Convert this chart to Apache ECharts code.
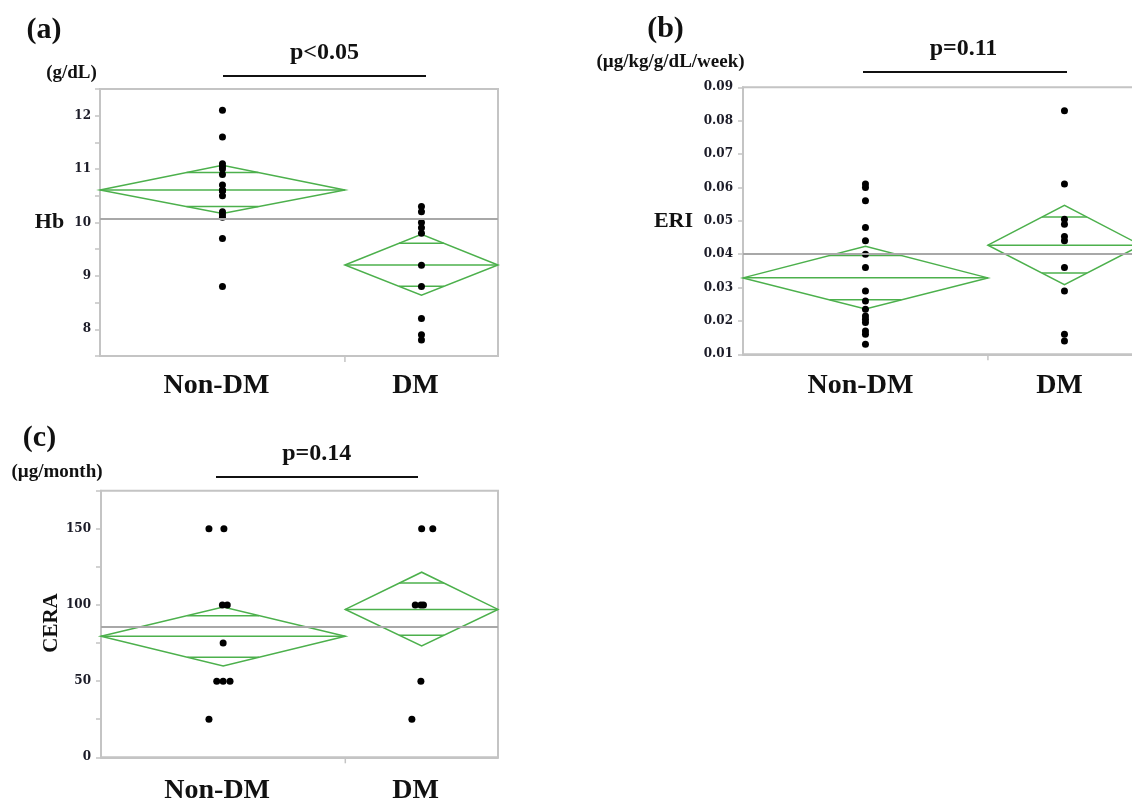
<!DOCTYPE html>
<html>
<head>
<meta charset="utf-8">
<script src="https://cdn.jsdelivr.net/npm/echarts@6/dist/echarts.min.js"></script>
<style>html,body{margin:0;padding:0;background:#fff}#c{width:1132px;height:803px}</style>
</head>
<body>
<div id="c"></div>
<script>
// ---------- data ----------
const categories = ['Non-DM', 'DM'];
const groupSizes = [16, 10];

const hbNonDM = [12.1, 11.6, 11.1, 11.05, 11.0, 10.9, 10.7, 10.6, 10.6, 10.6, 10.5, 10.2, 10.15, 10.1, 9.7, 8.8];
const hbDM = [10.3, 10.2, 10.0, 9.9, 9.8, 9.2, 8.8, 8.2, 7.9, 7.8];
const hbMeans = [10.61, 9.205];
const hbCI = [[10.17, 11.07], [8.64, 9.78]];
const hbGrandMean = 10.07;

const eriNonDM = [0.061, 0.060, 0.056, 0.048, 0.044, 0.040, 0.036, 0.029, 0.026, 0.0235, 0.0215, 0.0205, 0.0195, 0.017, 0.016, 0.013];
const eriDM = [0.083, 0.061, 0.0505, 0.049, 0.0453, 0.044, 0.036, 0.029, 0.016, 0.014];
const eriMeans = [0.0329, 0.0427];
const eriCI = [[0.0236, 0.0424], [0.0309, 0.0546]];
const eriGrandMean = 0.0366;

const ceraNonDM = [150, 150, 100, 100, 75, 50, 50, 50, 25];
const ceraNonDMJitter = [-0.93, 0.05, -0.05, 0.27, 0, -0.42, 0, 0.45, -0.93];
const ceraDM = [150, 150, 100, 100, 100, 50, 25];
const ceraDMJitter = [0, 0.73, -0.42, -0.05, 0.12, -0.05, -0.64];
const ceraMeans = [79.4, 97.1];
const ceraCI = [[60.0, 98.6], [73.1, 121.5]];
const ceraGrandMean = 86;

const pLabels = ['p<0.05', 'p=0.11', 'p=0.14'];
const panelLabels = ['(a)', '(b)', '(c)'];
const unitLabels = ['(g/dL)', '(\u00b5g/kg/g/dL/week)', '(\u00b5g/month)'];
const yNames = ['Hb', 'ERI', 'CERA'];

// ---------- helpers ----------
const GREEN = '#4cb04c';
const BORDER = '#c4c4c4';
const SERIF = '"Liberation Serif","Times New Roman",serif';
const TICKFONT = '"DejaVu Serif",serif';
const total = groupSizes[0] + groupSizes[1];
const starts = [0, groupSizes[0]];
const centers = [groupSizes[0] / 2, groupSizes[0] + groupSizes[1] / 2];

function diamonds(means, ci, ymin) {
  return means.map((m, i) => [starts[i], starts[i] + groupSizes[i], m, ci[i][0], ci[i][1], ymin]);
}
function points(groups, jitters) {
  const out = [];
  groups.forEach((vals, g) => vals.forEach((v, k) => {
    const j = jitters ? jitters[g][k] : 0;
    out.push([centers[g] + j, v]);
  }));
  return out;
}
function renderDiamond(params, api) {
  const x0 = api.value(0), x1 = api.value(1), m = api.value(2), lo = api.value(3), hi = api.value(4), ymin = api.value(5);
  const xc = (x0 + x1) / 2;
  const L = api.coord([x0, m]), R = api.coord([x1, m]), T = api.coord([xc, hi]), B = api.coord([xc, lo]);
  const halfX = (R[0] - L[0]) / 2;
  const f = 1 - 1 / Math.SQRT2;
  const pU = api.coord([xc, m + (hi - m) / Math.SQRT2]);
  const pD = api.coord([xc, m - (m - lo) / Math.SQRT2]);
  const st = { stroke: GREEN, lineWidth: 1.5, fill: null };
  const children = [
    { type: 'polygon', shape: { points: [L, T, R, B] }, style: st },
    { type: 'line', shape: { x1: L[0], y1: L[1], x2: R[0], y2: R[1] }, style: st },
    { type: 'line', shape: { x1: pU[0] - f * halfX, y1: pU[1], x2: pU[0] + f * halfX, y2: pU[1] }, style: st },
    { type: 'line', shape: { x1: pD[0] - f * halfX, y1: pD[1], x2: pD[0] + f * halfX, y2: pD[1] }, style: st }
  ];
  if (params.dataIndex === 0) {
    const b = api.coord([x1, ymin]);
    children.push({ type: 'line', shape: { x1: b[0], y1: b[1], x2: b[0], y2: b[1] + 6 }, style: { stroke: BORDER, lineWidth: 1.5 } });
  }
  return { type: 'group', children };
}

const grids = [
  { left: 100, top: 89, width: 398, height: 267 },
  { left: 743, top: 87.3, width: 398, height: 267 },
  { left: 101, top: 490.7, width: 397, height: 266.6 }
];
const yCfg = [
  { min: 7.5, max: 12.5, interval: 0.5, fmt: v => (Math.abs(v - Math.round(v)) < 1e-9 ? String(Math.round(v)) : ''), margin: 9 },
  { min: 0.01, max: 0.09, interval: 0.01, fmt: v => v.toFixed(2), margin: 10 },
  { min: 0, max: 175, interval: 25, fmt: v => (Math.round(v) % 50 === 0 ? String(Math.round(v)) : ''), margin: 10 }
];
const xMargins = [16, 17, 19.5];
const xPads = [12, 10, 12];

const xAxes = grids.map((g, i) => ({
  gridIndex: i, type: 'value', min: 0, max: total, interval: 1,
  axisLine: { lineStyle: { color: BORDER, width: 2 } },
  axisTick: { show: false }, splitLine: { show: false },
  axisLabel: {
    margin: xMargins[i], padding: [0, xPads[i], 0, 0],
    fontFamily: SERIF, fontWeight: 'bold', fontSize: 28, color: '#111',
    formatter: v => (Math.abs(v - centers[0]) < 1e-9 ? categories[0] : Math.abs(v - centers[1]) < 1e-9 ? categories[1] : '')
  }
}));
const yAxes = yCfg.map((c, i) => ({
  gridIndex: i, type: 'value', min: c.min, max: c.max, interval: c.interval,
  axisLine: { show: true, lineStyle: { color: BORDER, width: 2 } },
  axisTick: { show: true, length: 5, lineStyle: { color: BORDER, width: 1.5 } },
  splitLine: { show: false },
  axisLabel: { margin: c.margin, fontFamily: TICKFONT, fontWeight: 'bold', fontSize: 12, color: '#1c1c28', formatter: c.fmt }
}));

const panels = [
  { d: diamonds(hbMeans, hbCI, 7.5), p: points([hbNonDM, hbDM]), gm: hbGrandMean },
  { d: diamonds(eriMeans, eriCI, 0.01), p: points([eriNonDM, eriDM]), gm: eriGrandMean },
  { d: diamonds(ceraMeans, ceraCI, 0), p: points([ceraNonDM, ceraDM], [ceraNonDMJitter, ceraDMJitter]), gm: ceraGrandMean }
];
const series = [];
panels.forEach((pn, i) => {
  series.push({
    type: 'custom', xAxisIndex: i, yAxisIndex: i, clip: false, silent: true, z: 2,
    renderItem: renderDiamond, encode: { x: [0, 1], y: [2, 3, 4] }, data: pn.d
  });
  series.push({
    type: 'scatter', xAxisIndex: i, yAxisIndex: i, symbolSize: 7, z: 4, silent: true,
    itemStyle: { color: '#000', opacity: 1 }, data: pn.p,
    markLine: {
      silent: true, symbol: 'none', label: { show: false }, animation: false,
      lineStyle: { color: '#a8a8a8', width: 2, type: 'solid' }, data: [{ yAxis: pn.gm }]
    }
  });
});

function txt(t, x, y, size, extra) {
  return {
    type: 'text', z: 10,
    style: Object.assign({ text: t, x: x, y: y, font: 'bold ' + size + 'px ' + SERIF, fill: '#111', textAlign: 'center', textVerticalAlign: 'middle' }, extra || {})
  };
}
function hline(x1, x2, y) {
  return { type: 'line', z: 10, shape: { x1: x1, y1: y, x2: x2, y2: y }, style: { stroke: '#111', lineWidth: 2 } };
}
const graphic = [
  txt(panelLabels[0], 44, 30, 30), txt(panelLabels[1], 665.5, 29, 30), txt(panelLabels[2], 39.5, 438.5, 30),
  txt(pLabels[0], 324.5, 52.5, 24), txt(pLabels[1], 963.5, 49, 24), txt(pLabels[2], 316.7, 453.7, 24),
  txt(unitLabels[0], 71.5, 73, 19), txt(unitLabels[1], 670.5, 62.5, 19), txt(unitLabels[2], 57, 472, 19),
  txt(yNames[0], 49.5, 222, 22), txt(yNames[1], 693, 221, 22, { textAlign: 'right' }),
  { type: 'text', z: 10, x: 51.5, y: 623, rotation: Math.PI / 2,
    style: { text: yNames[2], x: 0, y: 0, font: 'bold 21px ' + SERIF, fill: '#111', textAlign: 'center', textVerticalAlign: 'middle' } },
  hline(223, 426, 76), hline(863, 1067, 72), hline(216, 418, 477)
];

const chart = echarts.init(document.getElementById('c'), null, { renderer: 'canvas' });
chart.setOption({
  animation: false,
  backgroundColor: '#fff',
  grid: grids.map(g => Object.assign({ show: true, borderColor: BORDER, borderWidth: 2, containLabel: false, outerBoundsMode: 'none' }, g)),
  xAxis: xAxes, yAxis: yAxes, series: series, graphic: graphic
});
</script>
</body>
</html>
